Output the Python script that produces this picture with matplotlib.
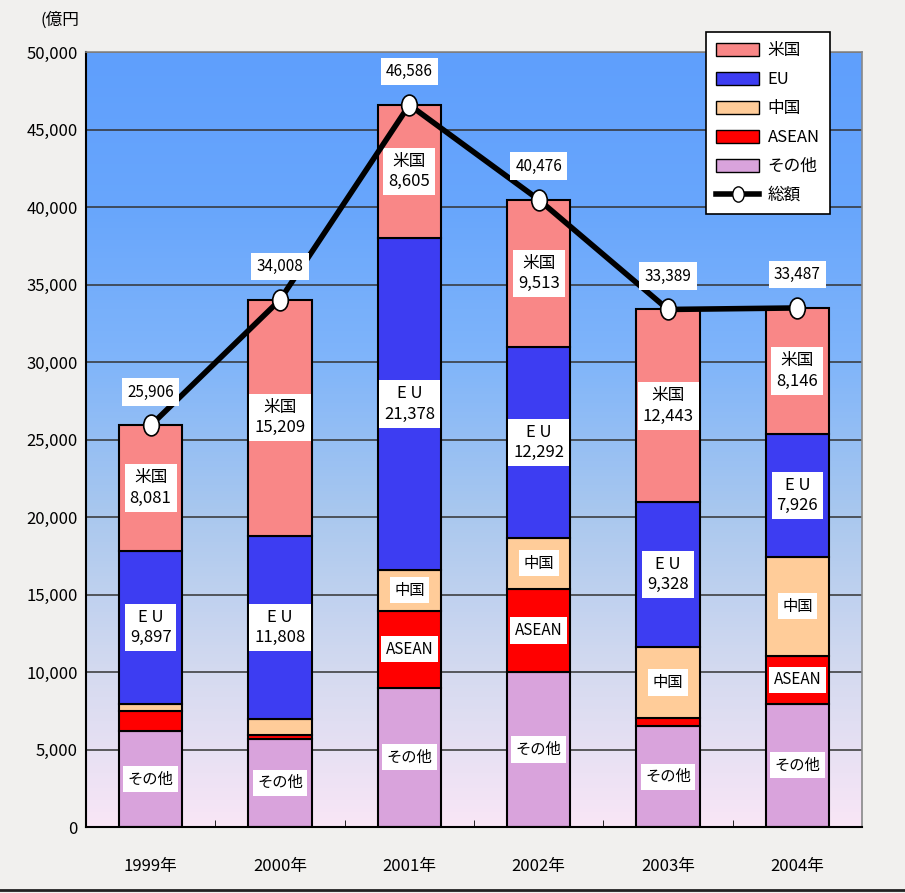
import matplotlib
matplotlib.use("Agg")
import matplotlib.pyplot as plt
import numpy as np
from matplotlib.colors import LinearSegmentedColormap
from matplotlib.path import Path
from matplotlib.lines import Line2D
from matplotlib.patches import Patch

plt.rcParams['font.family'] = ['Noto Sans CJK JP', 'DejaVu Sans']

years = ['1999年', '2000年', '2001年', '2002年', '2003年', '2004年']
other = [6200, 5700, 9000, 10000, 6500, 7950]
asean = [1300, 250, 4950, 5350, 530, 3100]
china = [428, 1041, 2653, 3321, 4588, 6365]
eu = [9897, 11808, 21378, 12292, 9328, 7926]
usa = [8081, 15209, 8605, 9513, 12443, 8146]
total = [25906, 34008, 46586, 40476, 33389, 33487]

# which segments get an in-bar label
show_china = [False, False, True, True, True, True]
show_asean = [False, False, True, True, False, True]

col_usa = '#f98787'
col_eu = '#3d3df2'
col_china = '#ffcc99'
col_asean = '#ff0000'
col_other = '#d9a3dc'

fig = plt.figure(figsize=(9.05, 8.93), dpi=100)
fig.patch.set_facecolor('#f1f0ee')
ax = fig.add_axes([86 / 905, 66 / 893, 776 / 905, 775 / 893])

x = np.arange(len(years))
ax.set_xlim(-0.5, len(years) - 0.5)
ax.set_ylim(0, 50000)

# background gradient of plot area
grad = LinearSegmentedColormap.from_list('bg', [
    (0.0, '#f9e6f6'), (0.2, '#d4daf0'), (0.4, '#aac8ee'),
    (0.6, '#80b5fa'), (0.8, '#68a6fc'), (1.0, '#5f9ffc')])
ax.imshow(np.linspace(0, 1, 256).reshape(-1, 1), cmap=grad, origin='lower',
          extent=[-0.5, len(years) - 0.5, 0, 50000], aspect='auto', zorder=0)

for yv in range(5000, 50001, 5000):
    ax.axhline(yv, color='#333333', lw=1.1, zorder=1)

w = 0.49
bottoms = np.zeros(len(years))
segs = [(other, col_other), (asean, col_asean), (china, col_china), (eu, col_eu), (usa, col_usa)]
for vals, c in segs:
    ax.bar(x, vals, w, bottom=bottoms, color=c, edgecolor='black', linewidth=1.5, zorder=2)
    bottoms += np.array(vals)

box = dict(boxstyle='square,pad=0.3', facecolor='white', edgecolor='none')
fs = 11
for i in range(len(years)):
    b0 = 0
    ax.text(x[i], b0 + other[i] / 2, 'その他', ha='center', va='center', fontsize=fs, bbox=box, zorder=4)
    b0 += other[i]
    if show_asean[i]:
        ax.text(x[i], b0 + asean[i] / 2, 'ASEAN', ha='center', va='center', fontsize=fs, bbox=box, zorder=4)
    b0 += asean[i]
    if show_china[i]:
        ax.text(x[i], b0 + china[i] / 2, '中国', ha='center', va='center', fontsize=fs, bbox=box, zorder=4)
    b0 += china[i]
    ax.text(x[i], b0 + eu[i] / 2, 'E U\n' + f'{eu[i]:,}', ha='center', va='center', fontsize=fs + 1,
            linespacing=1.25, bbox=box, zorder=4)
    b0 += eu[i]
    ax.text(x[i], b0 + usa[i] / 2, '米国\n' + f'{usa[i]:,}', ha='center', va='center', fontsize=fs + 1,
            linespacing=1.25, bbox=box, zorder=4)
    ax.text(x[i], total[i] + 2150, f'{total[i]:,}', ha='center', va='center', fontsize=fs,
            bbox=dict(boxstyle='square,pad=0.35', facecolor='white', edgecolor='none'), zorder=6)

# tall ellipse marker
circ = Path.unit_circle()
ell = Path(circ.vertices * np.array([0.75, 1.0]), circ.codes)
ax.plot(x, total, color='black', lw=4, marker=ell, markersize=15, markerfacecolor='white',
        markeredgecolor='black', markeredgewidth=1.2, zorder=5)

ax.set_yticks(range(0, 50001, 5000))
ax.set_yticklabels([f'{v:,}' for v in range(0, 50001, 5000)], fontsize=12)
ax.set_xticks(x)
ax.set_xticklabels(years, fontsize=12)
ax.tick_params(axis='x', length=0, pad=22)
ax.tick_params(axis='y', length=0, pad=6)
ax.set_xticks(x[:-1] + 0.5, minor=True)
ax.tick_params(axis='x', which='minor', direction='in', length=5, color='black')
for s in ['left', 'bottom']:
    ax.spines[s].set_color('black')
    ax.spines[s].set_linewidth(1.5)
for s in ['top', 'right']:
    ax.spines[s].set_color('#888888')
    ax.spines[s].set_linewidth(1.2)

fig.text(40 / 905, 1 - 20 / 893, '(億円', fontsize=12, ha='left', va='center')

handles = [Patch(facecolor=col_usa, edgecolor='black', label='米国'),
           Patch(facecolor=col_eu, edgecolor='black', label='EU'),
           Patch(facecolor=col_china, edgecolor='black', label='中国'),
           Patch(facecolor=col_asean, edgecolor='black', label='ASEAN'),
           Patch(facecolor=col_other, edgecolor='black', label='その他'),
           Line2D([], [], color='black', lw=4, marker=ell, markersize=11,
                  markerfacecolor='white', markeredgecolor='black', label='総額')]
leg = fig.legend(handles=handles, loc='upper left', bbox_to_anchor=(706 / 905, 1 - 32 / 893),
                 borderaxespad=0, fontsize=12, frameon=True, fancybox=False, edgecolor='black',
                 framealpha=1, handlelength=2.6, handleheight=0.8, labelspacing=0.72,
                 borderpad=0.6, handletextpad=0.5)
leg.get_frame().set_linewidth(1.2)
leg.set_zorder(10)

fig.add_artist(plt.Line2D([0, 1], [3 / 893, 3 / 893], color='#222222', lw=2, transform=fig.transFigure))

fig.savefig('out.png', dpi=100, facecolor=fig.get_facecolor())
